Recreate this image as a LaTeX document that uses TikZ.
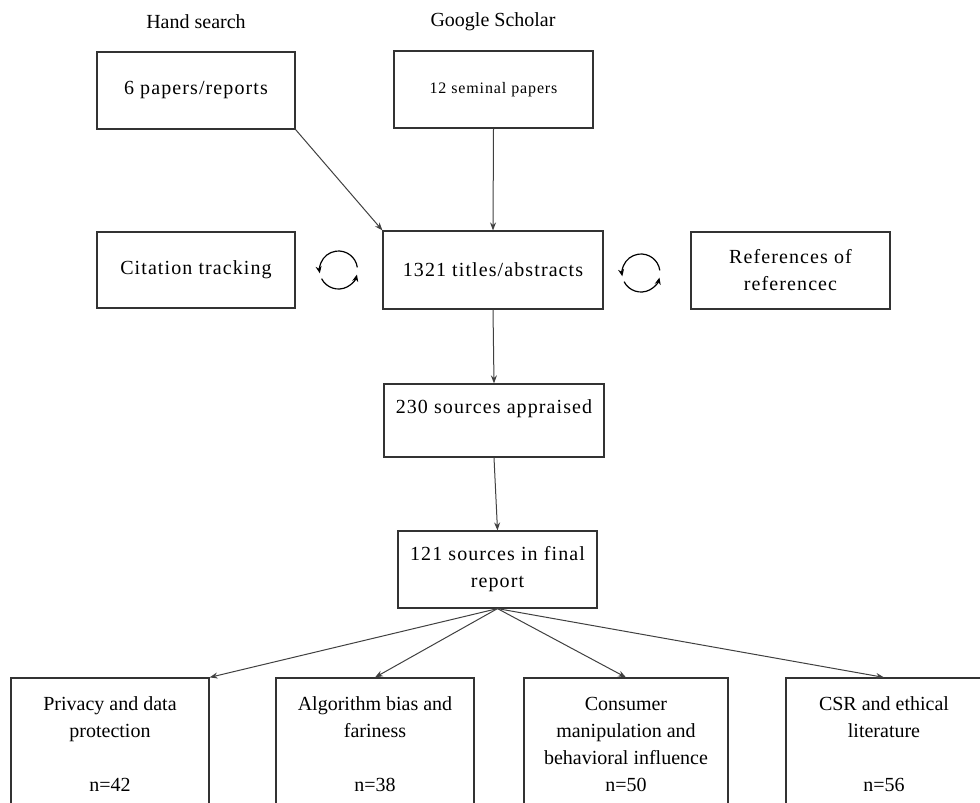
\documentclass[tikz,border=0pt]{standalone}
\usepackage{fontspec}
\setmainfont{Liberation Serif}
\newfontfamily\trackfont[LetterSpace=5.5]{Liberation Serif}
\usetikzlibrary{arrows.meta}

\begin{document}
\begin{tikzpicture}[x=0.5pt, y=-0.5pt, >={Stealth[length=4pt,width=3pt]},
  every node/.style={font=\fontsize{10}{13.5}\selectfont},
  box/.style={draw=black!80, line width=0.6pt, inner sep=0pt, align=center,
    font=\trackfont\fontsize{10}{13.5}\selectfont},
  catbox/.style={draw=black!80, line width=0.6pt, inner sep=0pt, align=center,
    minimum height=66pt},
  link/.style={->, line width=0.5pt, draw=black!75},
  cyc/.style={->, line width=0.6pt, >={Stealth[length=3.5pt,width=3pt]}}]
  \useasboundingbox (0,0) rectangle (980,803);
  \clip (0,0) rectangle (980,803);
  % sources
  \node (handlbl) at (196,22) {Hand search};
  \node (gslbl) at (493,22) {Google Scholar};
  \node[box, minimum width=99pt, minimum height=38.5pt] (hand) at (196,90.5) {6 papers/reports};
  \node[box, minimum width=99.5pt, minimum height=38.5pt,
    font=\trackfont\fontsize{8}{10}\selectfont] (scholar) at (493.5,89.5) {12 seminal papers};
  % screening
  \node[box, minimum width=99pt, minimum height=38pt] (cite) at (196,270) {Citation tracking};
  \node[box, minimum width=110pt, minimum height=39pt] (titles) at (493,270) {1321 titles/abstracts};
  \node[box, minimum width=99.5pt, minimum height=38.5pt] (refs) at (790.5,270.5) {References of\\referencec};
  \node[box, minimum width=110pt, minimum height=36.5pt] (appr) at (494,420.5) {230 sources appraised\\\mbox{}};
  \node[box, minimum width=99.5pt, minimum height=38.5pt] (final) at (497.5,569.5) {121 sources in final\\report};
  % themes
  \node[catbox, minimum width=99pt] (privacy) at (110,744) {Privacy and data\\protection\\[13.5pt]n=42};
  \node[catbox, minimum width=99pt] (bias) at (375,744) {Algorithm bias and\\fariness\\[13.5pt]n=38};
  \node[catbox, minimum width=102pt] (manip) at (626,744) {Consumer\\manipulation and\\behavioral influence\\n=50};
  \node[catbox, minimum width=98pt] (csr) at (884,744) {CSR and ethical\\literature\\[13.5pt]n=56};
  % arrows
  \draw[link] (hand.south east) -- (titles.north west);
  \draw[link] (scholar.south) -- (titles.north);
  \draw[link] (titles.south) -- (appr.north);
  \draw[link] (appr.south) -- (final.north);
  \draw[link] (final.south) -- (privacy.north east);
  \draw[link] (final.south) -- (bias.north);
  \draw[link] (final.south) -- (manip.north);
  \draw[link] (final.south) -- (csr.north);
  % cycle symbols
  \coordinate (cycL) at (338.5,270);
  \coordinate (cycR) at (641,273);
  \foreach \c in {cycL,cycR} {
    \draw[cyc] ([shift={(8:9.5pt)}]\c) arc[start angle=8, end angle=190, radius=9.5pt];
    \draw[cyc] ([shift={(207:9.5pt)}]\c) arc[start angle=207, end angle=346, radius=9.5pt];
  }
\end{tikzpicture}
\end{document}
